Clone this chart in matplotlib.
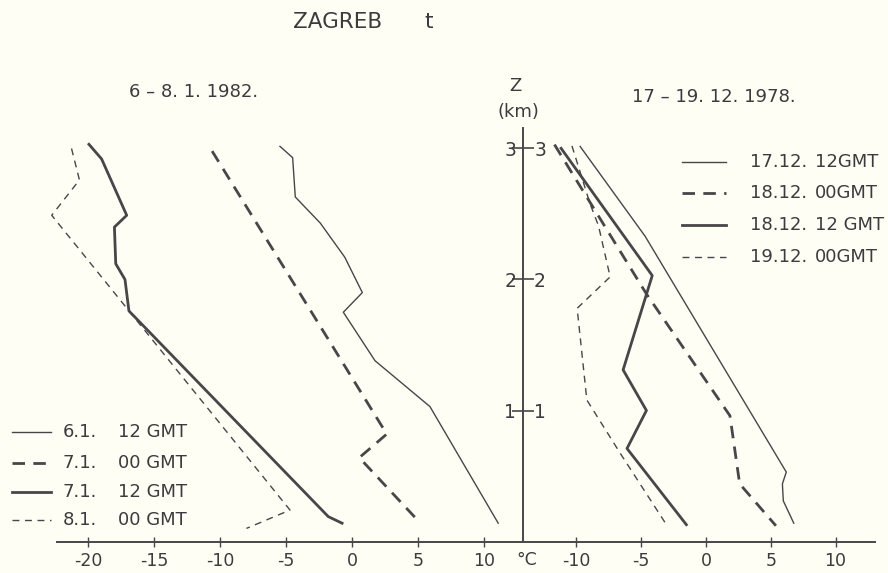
import matplotlib
matplotlib.use("Agg")
import matplotlib.pyplot as plt
from matplotlib.lines import Line2D

plt.rcParams['axes.unicode_minus'] = False
plt.rcParams['font.family'] = ['DejaVu Sans']

# ---------------- data (temperature °C, height km) ----------------
# Left panel: 6-8.1.1982
left_labels = ["6.1.", "7.1.", "7.1.", "8.1."]
left_times = ["12 GMT", "00 GMT", "12 GMT", "00 GMT"]
L1_T = [-5.5, -4.5, -4.3, -2.4, -0.55, 0.78, -0.66, 1.74, 5.9, 11.1]
L1_Z = [3.02, 2.93, 2.63, 2.43, 2.17, 1.90, 1.75, 1.38, 1.03, 0.135]
L2_T = [-10.6, 2.63, 0.55, 4.9]
L2_Z = [2.98, 0.82, 0.64, 0.17]
L3_T = [-20.0, -18.97, -17.07, -18.0, -17.9, -17.2, -16.9, -1.8, -0.66]
L3_Z = [3.04, 2.92, 2.49, 2.40, 2.12, 2.0, 1.76, 0.19, 0.135]
L4_T = [-21.25, -20.65, -22.75, -4.7, -8.0]
L4_Z = [3.0, 2.76, 2.49, 0.24, 0.10]

# Right panel: 17-19.12.1978
right_labels = ["17.12.", "18.12.", "18.12.", "19.12."]
right_times = ["12GMT", "00GMT", "12 GMT", "00GMT"]
R1_T = [-9.75, -4.7, 6.2, 5.9, 5.97, 6.8]
R1_Z = [3.02, 2.33, 0.53, 0.44, 0.31, 0.135]
R2_T = [-11.7, -4.6, 1.85, 2.6, 5.4]
R2_Z = [3.03, 1.89, 0.96, 0.44, 0.12]
R3_T = [-11.25, -4.15, -6.4, -4.6, -6.1, -1.45]
R3_Z = [3.01, 2.03, 1.31, 1.0, 0.71, 0.12]
R4_T = [-10.35, -8.96, -8.3, -7.4, -9.95, -9.2, -6.6, -3.0]
R4_Z = [3.02, 2.58, 2.41, 2.02, 1.78, 1.08, 0.67, 0.12]

left_xticks = [-20, -15, -10, -5, 0, 5, 10]
right_xticks = [-10, -5, 0, 5, 10]
z_ticks = [1, 2, 3]

# ---------------- styling ----------------
BG = "#fefef5"
INK = "#4a4549"
TXT = "#3f3a3e"
styles = [
    dict(lw=1.0, ls="-"),
    dict(lw=2.0, ls=(0, (4.5, 3.0))),
    dict(lw=2.0, ls="-"),
    dict(lw=1.0, ls=(0, (5.0, 4.0))),
]

W, H = 888, 573
fig = plt.figure(figsize=(W / 100, H / 100), dpi=100, facecolor=BG)

z0_px, km_px = 541.5, 131.0
ztop = 3.16
bottom = (H - z0_px) / H
height = ztop * km_px / H

axL = fig.add_axes([57 / W, bottom, (523 - 57) / W, height])
axR = fig.add_axes([523 / W, bottom, (875 - 523) / W, height])

for ax in (axL, axR):
    ax.set_facecolor("none")
    ax.set_ylim(0, ztop)
    for s in ("top", "left", "right"):
        ax.spines[s].set_visible(False)
    ax.spines["bottom"].set_color(INK)
    ax.spines["bottom"].set_linewidth(1.4)
    ax.tick_params(axis="x", direction="inout", length=7, width=1.0, colors=INK,
                   labelcolor=TXT, labelsize=12.5, pad=4)

axL.set_xlim(-22.35, 12.95)
axR.set_xlim(-14.13, 13.05)
axL.set_xticks(left_xticks)
axL.set_xticklabels([str(t) for t in left_xticks])
axR.set_xticks(right_xticks)
axR.set_xticklabels([str(t) for t in right_xticks])

# Z axis: right panel's left spine
axR.spines["left"].set_visible(True)
axR.spines["left"].set_color(INK)
axR.spines["left"].set_linewidth(1.4)
axR.set_yticks(z_ticks)
axR.set_yticklabels([str(t) for t in z_ticks])
axR.tick_params(axis="y", direction="inout", length=16, width=1.2, colors=INK,
                labelcolor=TXT, labelsize=13.5, pad=-3, left=True, labelleft=True)
axL.yaxis.tick_right()
axL.set_yticks(z_ticks)
axL.set_yticklabels([str(t) for t in z_ticks])
axL.tick_params(axis="y", right=False, labelright=True, labelcolor=TXT,
                labelsize=13.5, pad=8, length=0)

left_series = [(L1_T, L1_Z), (L2_T, L2_Z), (L3_T, L3_Z), (L4_T, L4_Z)]
right_series = [(R1_T, R1_Z), (R2_T, R2_Z), (R3_T, R3_Z), (R4_T, R4_Z)]
for (t, z), st in zip(left_series, styles):
    axL.plot(t, z, color=INK, clip_on=False, solid_capstyle="butt",
             dash_capstyle="butt", **st)
for (t, z), st in zip(right_series, styles):
    axR.plot(t, z, color=INK, clip_on=False, solid_capstyle="butt",
             dash_capstyle="butt", **st)

# ---------------- legends (manual) ----------------
def legend_block(x0, x1, ys, xd, xt, labels, times, size):
    for y, st, lab, tm in zip(ys, styles, labels, times):
        fy = 1 - y / H
        fig.add_artist(Line2D([x0 / W, x1 / W], [fy, fy], color=INK,
                              transform=fig.transFigure, **st))
        fig.text(xd / W, fy, lab, color=TXT, fontsize=size, va="center", ha="left")
        fig.text(xt / W, fy, tm, color=TXT, fontsize=size, va="center", ha="left")

legend_block(12, 51, [432, 463, 492, 520], 63, 118, left_labels, left_times, 13)
legend_block(682, 726, [162, 193, 225, 257], 750, 815, right_labels, right_times, 13)

# ---------------- titles ----------------
fig.text(293 / W, 1 - 22 / H, "ZAGREB", color=TXT, fontsize=15.5, va="center", ha="left")
fig.text(429 / W, 1 - 22 / H, "t", color=TXT, fontsize=15.5, va="center", ha="center")
fig.text(194 / W, 1 - 92 / H, "6 – 8. 1. 1982.", color=TXT, fontsize=13, va="center", ha="center")
fig.text(714 / W, 1 - 97 / H, "17 – 19. 12. 1978.", color=TXT, fontsize=13, va="center", ha="center")
fig.text(515 / W, 1 - 86 / H, "Z", color=TXT, fontsize=13, va="center", ha="center")
fig.text(518 / W, 1 - 112 / H, "(km)", color=TXT, fontsize=13, va="center", ha="center")
fig.text(527 / W, 1 - 560 / H, "°C", color=TXT, fontsize=12.5, va="center", ha="center")

fig.savefig("out.png", dpi=100, facecolor=BG)
